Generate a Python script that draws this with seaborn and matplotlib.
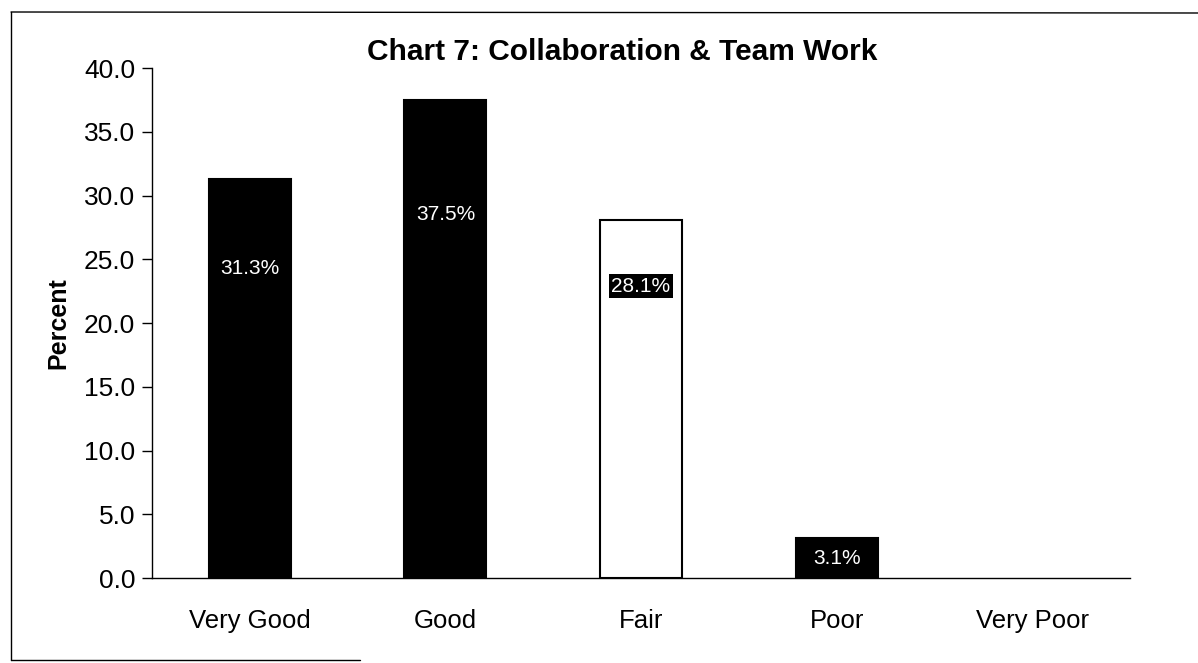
import matplotlib
matplotlib.use("Agg")
import seaborn as sns
import matplotlib.pyplot as plt
from matplotlib.lines import Line2D

categories = ["Very Good", "Good", "Fair", "Poor", "Very Poor"]
percent = [31.3, 37.5, 28.1, 3.1, 0.0]
bar_colors = ["black", "black", "white", "black", "black"]
labels = ["31.3%", "37.5%", "28.1%", "3.1%", None]

sns.set_style("white")
plt.rcParams["font.family"] = ["Liberation Sans", "DejaVu Sans"]
plt.rcParams["text.color"] = "black"
plt.rcParams["axes.labelcolor"] = "black"
plt.rcParams["xtick.color"] = "black"
plt.rcParams["ytick.color"] = "black"

fig = plt.figure(figsize=(11.98, 6.63), dpi=100)
ax = fig.add_axes([0.1269, 0.1282, 0.8163, 0.7692])

sns.barplot(x=categories, y=percent, hue=categories, palette=bar_colors,
            edgecolor="black", linewidth=1.5, width=0.42, legend=False, ax=ax)
# a zero-height bar shows nothing in the original
for p, v in zip(ax.patches, percent):
    if v == 0:
        p.set_visible(False)

# label offsets below bar tops, as seen in the scan
offsets = [7.0, 9.0, 5.2, 1.6, 0]
for i, (v, lab) in enumerate(zip(percent, labels)):
    if lab is None:
        continue
    kw = {}
    if bar_colors[i] == "white":
        kw["bbox"] = dict(facecolor="black", edgecolor="none", pad=2)
    ax.text(i, v - offsets[i], lab, color="white", ha="center", va="center",
            fontsize=15, **kw)

ax.set_ylim(0, 40)
ax.set_xlim(-0.5, 4.5)
ax.set_yticks([0, 5, 10, 15, 20, 25, 30, 35, 40])
ax.set_yticklabels([f"{t:.1f}" for t in ax.get_yticks()], fontsize=19)
ax.set_xticks(range(5))
ax.set_xticklabels(categories, fontsize=18.5)
ax.tick_params(axis="x", which="major", length=0, pad=22)
ax.set_xticks([-0.5, 0.5, 1.5, 2.5, 3.5, 4.5], minor=True)
ax.tick_params(axis="x", which="minor", length=8, width=1, direction="out", color="black")
ax.tick_params(axis="y", length=7, width=1, direction="out", color="black", left=True, pad=5)
for s in ["top", "right"]:
    ax.spines[s].set_visible(False)
for s in ["left", "bottom"]:
    ax.spines[s].set_color("black")
    ax.spines[s].set_linewidth(1)

ax.set_xlabel("")
ax.set_ylabel("Percent", fontsize=18, fontweight="bold", labelpad=10)
fig.text(0.519, 0.922, "Chart 7: Collaboration & Team Work", ha="center", va="center",
         fontsize=21.5, fontweight="bold")

# scanned frame lines
W, H = 1198, 663
fig.add_artist(Line2D([11 / W, 11 / W], [1 - 12 / H, 1 - 660 / H], color="black", lw=1))
fig.add_artist(Line2D([11 / W, 1.0], [1 - 12 / H, 1 - 13 / H], color="black", lw=1))
fig.add_artist(Line2D([11 / W, 360 / W], [1 - 660 / H, 1 - 660 / H], color="black", lw=1))

fig.savefig("out.png", dpi=100)
